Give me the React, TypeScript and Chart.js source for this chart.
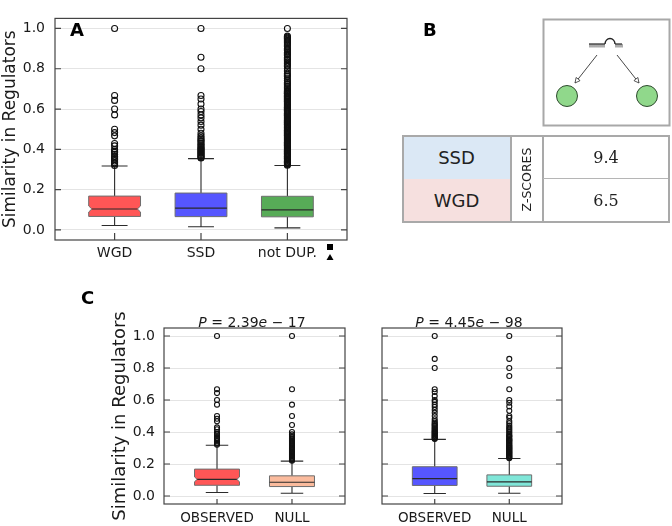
import React, { useEffect, useRef } from 'react';
import { Chart, registerables } from 'chart.js';

Chart.register(...registerables);

const SANS = "'DejaVu Sans', sans-serif";
const SERIF = "'DejaVu Serif', serif";

// ---------------- data ----------------
const Y_TICKS = [0, 0.2, 0.4, 0.6, 0.8, 1.0];

// Panel A
const A_CATEGORIES = ['WGD', 'SSD', 'not DUP.'];
const A_WHISKER_LOW = [0.022, 0.016, 0.01];
const A_Q1 = [0.067, 0.066, 0.065];
const A_MEDIAN = [0.104, 0.108, 0.1];
const A_Q3 = [0.168, 0.183, 0.167];
const A_WHISKER_HIGH = [0.317, 0.354, 0.32];
const A_NOTCH_LOW = [0.089, 0.104, 0.099];
const A_NOTCH_HIGH = [0.119, 0.112, 0.101];

const WGD_OUTLIERS = [1.0, 0.667, 0.643, 0.6, 0.571, 0.5, 0.483, 0.467, 0.429, 0.417, 0.4, 0.391, 0.385, 0.375,
  0.364, 0.357, 0.35, 0.342, 0.333, 0.327, 0.32];
const SSD_OUTLIERS = [1.0, 0.857, 0.8, 0.667, 0.65, 0.625, 0.6, 0.588, 0.571, 0.556, 0.538, 0.52, 0.5, 0.48, 0.467,
  0.458, 0.45, 0.444, 0.438, 0.43, 0.423, 0.417, 0.41, 0.404, 0.4, 0.395, 0.389, 0.385, 0.38, 0.375, 0.37, 0.365,
  0.36, 0.357];
const NOTDUP_OUTLIERS = [1.0, 0.962, 0.957, 0.952, 0.947, 0.941, 0.935, 0.929, 0.923, 0.917, 0.909, 0.9, 0.895,
  0.889, 0.882, 0.875, 0.87, 0.867, 0.857, 0.85, 0.846, 0.842, 0.833, 0.826, 0.818, 0.812, 0.8, 0.789, 0.778,
  0.769, 0.762, 0.75, 0.741, 0.733, 0.727, 0.722, 0.714, 0.706, 0.7, 0.692, 0.688, 0.684, 0.68, 0.677, 0.674,
  0.667, 0.664, 0.66, 0.655, 0.65, 0.645, 0.64, 0.636, 0.632, 0.627, 0.622, 0.618, 0.614, 0.609, 0.605, 0.6,
  0.595, 0.591, 0.586, 0.581, 0.576, 0.571, 0.567, 0.562, 0.558, 0.553, 0.548, 0.544, 0.54, 0.535, 0.531, 0.526,
  0.522, 0.517, 0.513, 0.508, 0.504, 0.5, 0.495, 0.491, 0.486, 0.481, 0.476, 0.471, 0.467, 0.462, 0.458, 0.453,
  0.449, 0.444, 0.44, 0.435, 0.431, 0.427, 0.422, 0.418, 0.414, 0.409, 0.405, 0.4, 0.395, 0.391, 0.387, 0.382,
  0.378, 0.374, 0.37, 0.366, 0.362, 0.357, 0.353, 0.349, 0.345, 0.341, 0.337, 0.333, 0.329, 0.325, 0.321];

// Panel B
const B_GROUPS = ['SSD', 'WGD'];
const B_ZSCORES = [9.4, 6.5];
const B_COLUMN_LABEL = 'Z-SCORES';

// Panel C
const C_CATEGORIES = ['OBSERVED', 'NULL'];
const C_P_MANTISSA = ['2.39', '4.45'];
const C_P_EXPONENT = ['17', '98'];

// left: WGD observed vs null
const CL_WHISKER_LOW = [0.022, 0.017];
const CL_Q1 = [0.067, 0.059];
const CL_MEDIAN = [0.104, 0.086];
const CL_Q3 = [0.168, 0.126];
const CL_WHISKER_HIGH = [0.317, 0.218];
const CL_NOTCH_LOW = [0.089, 0.085];
const CL_NOTCH_HIGH = [0.119, 0.087];
const CL_NULL_OUTLIERS = [1.0, 0.667, 0.571, 0.5, 0.444, 0.4, 0.385, 0.375, 0.367, 0.36, 0.353, 0.346, 0.34,
  0.333, 0.327, 0.32, 0.314, 0.308, 0.302, 0.296, 0.29, 0.285, 0.28, 0.275, 0.27, 0.265, 0.26, 0.255, 0.25, 0.245,
  0.24, 0.235, 0.23, 0.225, 0.22];

// right: SSD observed vs null
const CR_WHISKER_LOW = [0.016, 0.017];
const CR_Q1 = [0.066, 0.061];
const CR_MEDIAN = [0.108, 0.088];
const CR_Q3 = [0.183, 0.132];
const CR_WHISKER_HIGH = [0.354, 0.234];
const CR_NOTCH_LOW = [0.104, 0.087];
const CR_NOTCH_HIGH = [0.112, 0.089];
const CR_NULL_OUTLIERS = [1.0, 0.857, 0.8, 0.75, 0.667, 0.6, 0.583, 0.56, 0.533, 0.5, 0.489, 0.467, 0.455, 0.44,
  0.43, 0.42, 0.41, 0.4, 0.39, 0.38, 0.375, 0.37, 0.36, 0.355, 0.35, 0.345, 0.34, 0.333, 0.328, 0.32, 0.315, 0.31,
  0.305, 0.3, 0.295, 0.29, 0.285, 0.28, 0.275, 0.27, 0.265, 0.26, 0.255, 0.25, 0.245, 0.24, 0.236];

// ---------------- box chart ----------------
type BoxData = {
  categories: string[]; low: number[]; q1: number[]; med: number[]; q3: number[]; high: number[];
  notchLow: number[]; notchHigh: number[]; outliers: number[][];
};
type BoxStyle = {
  left: number; top: number; width: number; height: number; padTop: number; padRight: number;
  yWidth: number; xHeight: number; xMin: number; xMax: number; showYLabels: boolean; yTitle?: string;
  yTitleSize: number; yTitlePad: number; tickSize: number; xTickSize: number; yTickPad: number; xTickPad: number;
  colors: string[]; notched: boolean[]; radius: number; tickIn: number; xTickIn: number; boxWidth: number;
};

function BoxChart({ data, st }: { data: BoxData; st: BoxStyle }) {
  const ref = useRef<HTMLCanvasElement | null>(null);
  useEffect(() => {
    if (!ref.current) return;
    const points: { x: number; y: number }[] = [];
    data.outliers.forEach((arr, i) => arr.forEach((v) => points.push({ x: i + 1, y: v })));

    const boxPlugin = {
      id: 'boxes',
      beforeDatasetsDraw(chart: any) {
        const ctx = chart.ctx;
        const xs = chart.scales.x;
        const ys = chart.scales.y;
        ctx.save();
        data.categories.forEach((_, i) => {
          const cx = xs.getPixelForValue(i + 1);
          const hw = xs.getPixelForValue(i + 1 + st.boxWidth / 2) - cx;
          const cw = hw * 0.5;
          const yl = ys.getPixelForValue(data.low[i]);
          const y1 = ys.getPixelForValue(data.q1[i]);
          const ym = ys.getPixelForValue(data.med[i]);
          const y3 = ys.getPixelForValue(data.q3[i]);
          const yh = ys.getPixelForValue(data.high[i]);
          const nl = ys.getPixelForValue(data.notchLow[i]);
          const nh = ys.getPixelForValue(data.notchHigh[i]);
          // whiskers & caps
          ctx.strokeStyle = '#2b2b2b';
          ctx.lineWidth = 1.1;
          ctx.beginPath();
          ctx.moveTo(cx, yl); ctx.lineTo(cx, y1);
          ctx.moveTo(cx, y3); ctx.lineTo(cx, yh);
          ctx.moveTo(cx - cw, yl); ctx.lineTo(cx + cw, yl);
          ctx.moveTo(cx - cw, yh); ctx.lineTo(cx + cw, yh);
          ctx.stroke();
          // box (optionally notched)
          const ind = st.notched[i] ? hw * 0.12 : 0;
          ctx.beginPath();
          ctx.moveTo(cx - hw, y1);
          ctx.lineTo(cx + hw, y1);
          if (ind) { ctx.lineTo(cx + hw, nl); ctx.lineTo(cx + hw - ind, ym); ctx.lineTo(cx + hw, nh); }
          ctx.lineTo(cx + hw, y3);
          ctx.lineTo(cx - hw, y3);
          if (ind) { ctx.lineTo(cx - hw, nh); ctx.lineTo(cx - hw + ind, ym); ctx.lineTo(cx - hw, nl); }
          ctx.closePath();
          ctx.fillStyle = st.colors[i];
          ctx.fill();
          ctx.strokeStyle = '#6e6e6e';
          ctx.lineWidth = 1;
          ctx.stroke();
          // median
          ctx.strokeStyle = '#2a2a2a';
          ctx.lineWidth = 1.2;
          ctx.beginPath();
          ctx.moveTo(cx - hw + ind, ym); ctx.lineTo(cx + hw - ind, ym);
          ctx.stroke();
        });
        ctx.restore();
      },
    };

    const framePlugin = {
      id: 'frame',
      afterDraw(chart: any) {
        const ctx = chart.ctx;
        const { left, right, top, bottom } = chart.chartArea;
        const xs = chart.scales.x;
        const ys = chart.scales.y;
        ctx.save();
        ctx.strokeStyle = '#444';
        ctx.lineWidth = 1.2;
        ctx.strokeRect(left, top, right - left, bottom - top);
        ctx.beginPath();
        Y_TICKS.forEach((v) => {
          const y = ys.getPixelForValue(v);
          ctx.moveTo(left, y); ctx.lineTo(left + st.tickIn, y);
          ctx.moveTo(right - st.tickIn, y); ctx.lineTo(right, y);
        });
        data.categories.forEach((_, i) => {
          const x = xs.getPixelForValue(i + 1);
          ctx.moveTo(x, bottom); ctx.lineTo(x, bottom - st.xTickIn);
        });
        ctx.stroke();
        ctx.restore();
      },
    };

    const chart = new Chart(ref.current, {
      type: 'scatter',
      data: {
        datasets: [{
          data: points,
          pointRadius: st.radius,
          pointHoverRadius: st.radius,
          pointBorderWidth: 1.1,
          borderColor: '#111',
          backgroundColor: 'rgba(0,0,0,0)',
        }],
      },
      options: {
        animation: false,
        responsive: false,
        events: [],
        layout: { padding: { left: 0, top: st.padTop, right: st.padRight, bottom: 0 } },
        plugins: { legend: { display: false }, tooltip: { enabled: false } },
        scales: {
          x: {
            type: 'linear', min: st.xMin, max: st.xMax, offset: false,
            grid: { display: false, drawTicks: false }, border: { display: false },
            afterBuildTicks: (s: any) => { s.ticks = data.categories.map((_, i) => ({ value: i + 1 })); },
            afterFit: (s: any) => { s.height = st.xHeight; },
            ticks: {
              autoSkip: false, maxRotation: 0, minRotation: 0, padding: st.xTickPad, color: '#1a1a1a',
              font: { family: SANS, size: st.xTickSize },
              callback: (_v: any, i: number) => data.categories[i],
            },
          },
          y: {
            type: 'linear', min: -0.05, max: 1.05,
            grid: { color: '#e4e4e4', lineWidth: 1, drawTicks: false }, border: { display: false },
            afterBuildTicks: (s: any) => { s.ticks = Y_TICKS.map((v) => ({ value: v })); },
            afterFit: (s: any) => { s.width = st.yWidth; },
            ticks: {
              display: st.showYLabels, padding: st.yTickPad, color: '#1a1a1a',
              font: { family: SANS, size: st.tickSize },
              callback: (v: any) => Number(v).toFixed(1),
            },
            title: {
              display: !!st.yTitle, text: st.yTitle || '', color: '#1a1a1a',
              font: { family: SANS, size: st.yTitleSize }, padding: { top: st.yTitlePad, bottom: 0 },
            },
          },
        },
      } as any,
      plugins: [boxPlugin, framePlugin],
    });
    return () => chart.destroy();
  }, []);
  return (
    <canvas
      ref={ref}
      width={st.width}
      height={st.height}
      style={{ position: 'absolute', left: st.left, top: st.top, width: st.width, height: st.height }}
    />
  );
}

const A_DATA: BoxData = {
  categories: A_CATEGORIES, low: A_WHISKER_LOW, q1: A_Q1, med: A_MEDIAN, q3: A_Q3, high: A_WHISKER_HIGH,
  notchLow: A_NOTCH_LOW, notchHigh: A_NOTCH_HIGH, outliers: [WGD_OUTLIERS, SSD_OUTLIERS, NOTDUP_OUTLIERS],
};
const CL_DATA: BoxData = {
  categories: C_CATEGORIES, low: CL_WHISKER_LOW, q1: CL_Q1, med: CL_MEDIAN, q3: CL_Q3, high: CL_WHISKER_HIGH,
  notchLow: CL_NOTCH_LOW, notchHigh: CL_NOTCH_HIGH, outliers: [WGD_OUTLIERS, CL_NULL_OUTLIERS],
};
const CR_DATA: BoxData = {
  categories: C_CATEGORIES, low: CR_WHISKER_LOW, q1: CR_Q1, med: CR_MEDIAN, q3: CR_Q3, high: CR_WHISKER_HIGH,
  notchLow: CR_NOTCH_LOW, notchHigh: CR_NOTCH_HIGH, outliers: [SSD_OUTLIERS, CR_NULL_OUTLIERS],
};

const A_STYLE: BoxStyle = {
  left: 0, top: 0, width: 352, height: 272, padTop: 2, padRight: 5, yWidth: 55, xHeight: 32,
  xMin: 0.31, xMax: 3.69, showYLabels: true, yTitle: 'Similarity in Regulators', yTitleSize: 17, yTitlePad: 0,
  tickSize: 14, xTickSize: 14, yTickPad: 10, xTickPad: 5,
  colors: ['#ff5656', '#5656ff', '#57ab57'], notched: [true, false, false], radius: 3, tickIn: 6, xTickIn: 7,
  boxWidth: 0.6,
};
const CL_STYLE: BoxStyle = {
  left: 100, top: 310, width: 250, height: 216, padTop: 18, padRight: 5, yWidth: 64, xHeight: 22,
  xMin: 0.293, xMax: 2.707, showYLabels: true, yTitle: 'Similarity in Regulators', yTitleSize: 18, yTitlePad: 10,
  tickSize: 14, xTickSize: 13.5, yTickPad: 9, xTickPad: 6,
  colors: ['#ff5656', '#fbbb9d'], notched: [true, false], radius: 2.5, tickIn: 6, xTickIn: 5, boxWidth: 0.6,
};
const CR_STYLE: BoxStyle = {
  left: 370, top: 310, width: 200, height: 216, padTop: 18, padRight: 8, yWidth: 12, xHeight: 22,
  xMin: 0.293, xMax: 2.707, showYLabels: false, yTitleSize: 18, yTitlePad: 0,
  tickSize: 14, xTickSize: 13.5, yTickPad: 9, xTickPad: 6,
  colors: ['#5656ff', '#7fe6d8'], notched: [false, false], radius: 2.5, tickIn: 6, xTickIn: 5, boxWidth: 0.6,
};

const abs = (o: React.CSSProperties): React.CSSProperties => ({ position: 'absolute', ...o });

function PTitle({ cx, top, mant, exp }: { cx: number; top: number; mant: string; exp: string }) {
  return (
    <div style={abs({ left: cx - 100, top, width: 200, textAlign: 'center', fontFamily: SANS, fontSize: 14,
      lineHeight: '16px', color: '#1a1a1a', whiteSpace: 'nowrap' })}>
      <i>P</i> = {mant}<i>e</i> − {exp}
    </div>
  );
}

function PanelB() {
  const rowTops = [136, 179];
  const rowBg = ['#dbe8f5', '#f6e0df'];
  return (
    <>
      <svg width={672} height={526} style={abs({ left: 0, top: 0, pointerEvents: 'none' })}>
        <defs>
          <marker id="open" viewBox="0 0 10 10" refX="9" refY="5" markerWidth="7" markerHeight="7" orient="auto">
            <path d="M1,1 L9,5 L1,9 Z" fill="#fff" stroke="#333" strokeWidth="1.2" />
          </marker>
        </defs>
        <rect x={543.5} y={19.5} width={126} height={106} fill="#fff" stroke="#a8a8a8" strokeWidth={2} />
        {/* regulator glyph */}
        <line x1={589} y1={44} x2={605} y2={44} stroke="#222" strokeWidth={1.2} />
        <line x1={615} y1={44} x2={622} y2={44} stroke="#222" strokeWidth={1.2} />
        {[590, 592, 594, 596, 598, 600, 602, 604, 616, 618, 620, 622].map((x) => (
          <line key={x} x1={x} y1={44} x2={x} y2={47.5} stroke="#444" strokeWidth={0.9} />
        ))}
        <path d="M605,44 A5,5.5 0 0 1 615,44" fill="none" stroke="#222" strokeWidth={1.4} />
        <line x1={597} y1={55} x2={575} y2={83} stroke="#333" strokeWidth={0.9} markerEnd="url(#open)" />
        <line x1={617} y1={55} x2={639} y2={83} stroke="#333" strokeWidth={0.9} markerEnd="url(#open)" />
        <circle cx={567} cy={96} r={10.5} fill="#90d88b" stroke="#2e4a2e" strokeWidth={1} />
        <circle cx={647} cy={96} r={10.5} fill="#90d88b" stroke="#2e4a2e" strokeWidth={1} />
        {/* small markers next to "not DUP." */}
        <rect x={327} y={244} width={6} height={6} fill="#000" />
        <polygon points="330,254 333.5,260 326.5,260" fill="#000" />
      </svg>
      {B_GROUPS.map((g, i) => (
        <React.Fragment key={g}>
          <div style={abs({ left: 403, top: rowTops[i], width: 107, height: 43, background: rowBg[i],
            display: 'flex', alignItems: 'center', justifyContent: 'center', fontFamily: SANS, fontSize: 18,
            color: '#222' })}>{g}</div>
          <div style={abs({ left: 543, top: rowTops[i], width: 126, height: 43, display: 'flex',
            alignItems: 'center', justifyContent: 'center', fontFamily: SERIF, fontSize: 16, color: '#222' })}>
            {B_ZSCORES[i].toFixed(1)}
          </div>
        </React.Fragment>
      ))}
      <div style={abs({ left: 510, top: 136, width: 33, height: 86, display: 'flex', alignItems: 'center',
        justifyContent: 'center' })}>
        <div style={{ transform: 'rotate(-90deg)', fontFamily: SANS, fontSize: 12.5, color: '#222',
          whiteSpace: 'nowrap' }}>{B_COLUMN_LABEL}</div>
      </div>
      <div style={abs({ left: 510, top: 136, width: 0, height: 86, borderLeft: '2px solid #a9a9a9' })} />
      <div style={abs({ left: 542, top: 136, width: 0, height: 86, borderLeft: '2px solid #a9a9a9' })} />
      <div style={abs({ left: 543, top: 178, width: 126, height: 0, borderTop: '1.5px solid #b5b5b5' })} />
      <div style={abs({ left: 402, top: 135, width: 268, height: 88, border: '2px solid #a9a9a9',
        boxSizing: 'border-box' })} />
    </>
  );
}

export default function App() {
  return (
    <div style={abs({ left: 0, top: 0, width: 672, height: 526, background: '#fff', overflow: 'hidden' })}>
      <BoxChart data={A_DATA} st={A_STYLE} />
      <BoxChart data={CL_DATA} st={CL_STYLE} />
      <BoxChart data={CR_DATA} st={CR_STYLE} />
      <PanelB />
      <PTitle cx={252} top={314} mant={C_P_MANTISSA[0]} exp={C_P_EXPONENT[0]} />
      <PTitle cx={469} top={314} mant={C_P_MANTISSA[1]} exp={C_P_EXPONENT[1]} />
      <div style={abs({ left: 70, top: 21, fontFamily: SANS, fontWeight: 'bold', fontSize: 18, lineHeight: '18px',
        color: '#000' })}>A</div>
      <div style={abs({ left: 423, top: 21, fontFamily: SANS, fontWeight: 'bold', fontSize: 18, lineHeight: '18px',
        color: '#000' })}>B</div>
      <div style={abs({ left: 81, top: 289, fontFamily: SANS, fontWeight: 'bold', fontSize: 18, lineHeight: '18px',
        color: '#000' })}>C</div>
    </div>
  );
}
